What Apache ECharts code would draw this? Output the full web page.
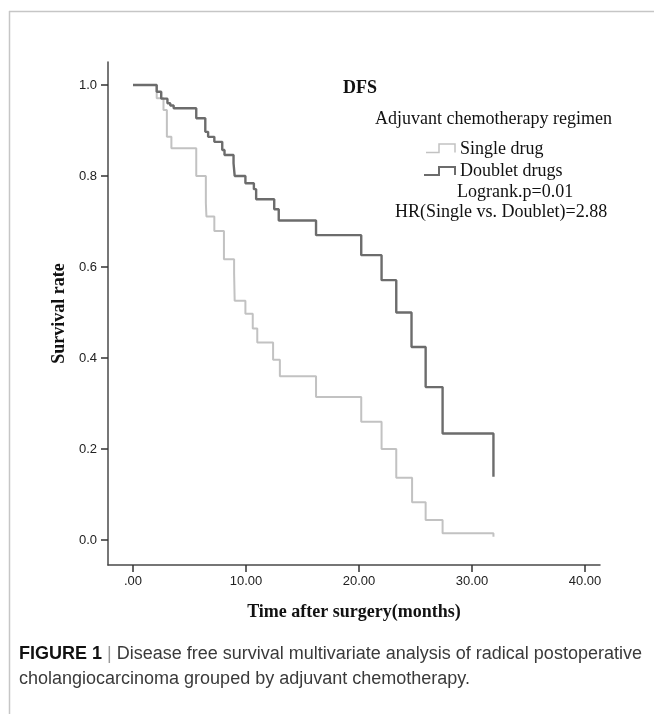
<!DOCTYPE html>
<html>
<head>
<meta charset="utf-8">
<script src="https://cdn.jsdelivr.net/npm/echarts@6/dist/echarts.min.js"></script>
<style>
html,body{margin:0;padding:0;background:#fff;}
#c{width:654px;height:714px;}
</style>
</head>
<body>
<div id="c"></div>
<script>
// ---- data ----
const singleTimes = [0, 2.1, 2.7, 3.0, 3.4, 5.6, 6.45, 6.5, 7.2, 8.05, 8.95, 9.0, 9.95, 10.6, 11.0, 12.4, 13.0, 16.2, 20.2, 22.0, 23.3, 24.7, 25.9, 27.4, 31.9];
const singleSurv  = [1.0, 0.971, 0.945, 0.886, 0.861, 0.80, 0.74, 0.711, 0.679, 0.617, 0.586, 0.526, 0.497, 0.465, 0.434, 0.396, 0.36, 0.314, 0.26, 0.2, 0.137, 0.083, 0.044, 0.015, 0.007];
const doubletTimes = [0, 2.1, 2.5, 3.05, 3.3, 3.6, 5.6, 6.4, 6.65, 7.2, 7.9, 8.1, 8.9, 9.0, 9.95, 10.7, 10.9, 12.5, 12.9, 16.2, 20.2, 22.0, 23.3, 24.65, 25.9, 27.4, 31.9];
const doubletSurv  = [1.0, 0.985, 0.97, 0.96, 0.955, 0.949, 0.927, 0.897, 0.886, 0.875, 0.857, 0.846, 0.828, 0.80, 0.784, 0.771, 0.749, 0.727, 0.702, 0.670, 0.626, 0.571, 0.50, 0.424, 0.336, 0.234, 0.139];
const xTicks = [0, 10, 20, 30, 40];
const yTicks = [0, 0.2, 0.4, 0.6, 0.8, 1.0];
const seriesNames = ['Single drug', 'Doublet drugs'];
const titleText = 'DFS';
const legendTitle = 'Adjuvant chemotherapy regimen';
const statLines = ['Logrank.p=0.01', 'HR(Single vs. Doublet)=2.88'];
const xTitle = 'Time after surgery(months)';
const yTitle = 'Survival rate';
const captionLabel = 'FIGURE 1';
const captionLines = ['Disease free survival multivariate analysis of radical postoperative', 'cholangiocarcinoma grouped by adjuvant chemotherapy.'];

const LIGHT = '#c2c2c2', DARK = '#6c6c6c';
const serif = '"Liberation Serif","Times New Roman",serif';
const sans = '"Liberation Sans",Arial,sans-serif';

function pairs(t, v) { return t.map((x, i) => [x, v[i]]); }
function fmtX(v) { return v === 0 ? '.00' : v.toFixed(2); }

const chart = echarts.init(document.getElementById('c'), null, {renderer: 'canvas'});
const option = {
  animation: false,
  backgroundColor: '#fff',
  grid: {left: 108, top: 62, width: 492, height: 503, containLabel: false},
  xAxis: {
    type: 'value', min: -2.21, max: 41.33,
    axisLine: {onZero: false, lineStyle: {color: '#4a4a4a', width: 1.5}},
    axisTick: {show: true, customValues: xTicks, length: 7, lineStyle: {color: '#333', width: 1.5}},
    axisLabel: {customValues: xTicks, formatter: fmtX, margin: 10, color: '#222', fontSize: 13, fontFamily: sans},
    splitLine: {show: false},
    name: xTitle, nameLocation: 'middle', nameGap: 38,
    nameTextStyle: {fontFamily: serif, fontWeight: 'bold', fontSize: 18, color: '#111'}
  },
  yAxis: {
    type: 'value', min: -0.055, max: 1.0505,
    axisLine: {show: true, onZero: false, lineStyle: {color: '#4a4a4a', width: 1.5}},
    axisTick: {show: true, customValues: yTicks, length: 7, lineStyle: {color: '#333', width: 1.5}},
    axisLabel: {customValues: yTicks, formatter: v => v.toFixed(1), margin: 11, color: '#222', fontSize: 13, fontFamily: sans},
    splitLine: {show: false},
    name: yTitle, nameLocation: 'middle', nameGap: 38, nameRotate: 90,
    nameTextStyle: {fontFamily: serif, fontWeight: 'bold', fontSize: 18, color: '#111'}
  },
  series: [
    {name: seriesNames[0], type: 'line', step: 'end', data: pairs(singleTimes, singleSurv),
     showSymbol: false, lineStyle: {color: LIGHT, width: 2}, z: 2},
    {name: seriesNames[1], type: 'line', step: 'end', data: pairs(doubletTimes, doubletSurv),
     showSymbol: false, lineStyle: {color: DARK, width: 2.4}, z: 3}
  ],
  graphic: [
    // figure frame
    {type: 'line', shape: {x1: 9, y1: 11.5, x2: 654, y2: 11.5}, style: {stroke: '#c6c6c6', lineWidth: 1.5}},
    {type: 'line', shape: {x1: 9.5, y1: 11, x2: 9.5, y2: 714}, style: {stroke: '#c6c6c6', lineWidth: 1.5}},
    // annotations
    {type: 'text', x: 343, y: 88, style: {text: titleText, font: 'bold 18px ' + serif, fill: '#111', verticalAlign: 'middle'}},
    {type: 'text', x: 375, y: 119, style: {text: legendTitle, font: '18px ' + serif, fill: '#111', verticalAlign: 'middle'}},
    {type: 'polyline', shape: {points: [[426, 152.5], [439, 152.5], [439, 144], [455, 144], [455, 152.5]]}, style: {stroke: LIGHT, lineWidth: 1.5, fill: null}},
    {type: 'text', x: 460, y: 149, style: {text: seriesNames[0], font: '18px ' + serif, fill: '#111', verticalAlign: 'middle'}},
    {type: 'polyline', shape: {points: [[424, 175], [439, 175], [439, 167], [455, 167], [455, 175]]}, style: {stroke: DARK, lineWidth: 2, fill: null}},
    {type: 'text', x: 460, y: 171, style: {text: seriesNames[1], font: '18px ' + serif, fill: '#111', verticalAlign: 'middle'}},
    {type: 'text', x: 457, y: 192, style: {text: statLines[0], font: '18px ' + serif, fill: '#111', verticalAlign: 'middle'}},
    {type: 'text', x: 395, y: 212, style: {text: statLines[1], font: '18px ' + serif, fill: '#111', verticalAlign: 'middle'}},
    // caption
    {type: 'text', x: 19, y: 654, style: {
      text: '{b|' + captionLabel + '} {s||} ' + captionLines[0],
      font: '18px ' + sans, fill: '#3a3a3a', verticalAlign: 'middle',
      rich: {b: {fontWeight: 'bold', fontSize: 18, fontFamily: sans, fill: '#111'}, s: {fill: '#999', fontSize: 18, fontFamily: sans}}}},
    {type: 'text', x: 19, y: 679, style: {text: captionLines[1], font: '18px ' + sans, fill: '#3a3a3a', verticalAlign: 'middle'}}
  ]
};
chart.setOption(option);
</script>
</body>
</html>
